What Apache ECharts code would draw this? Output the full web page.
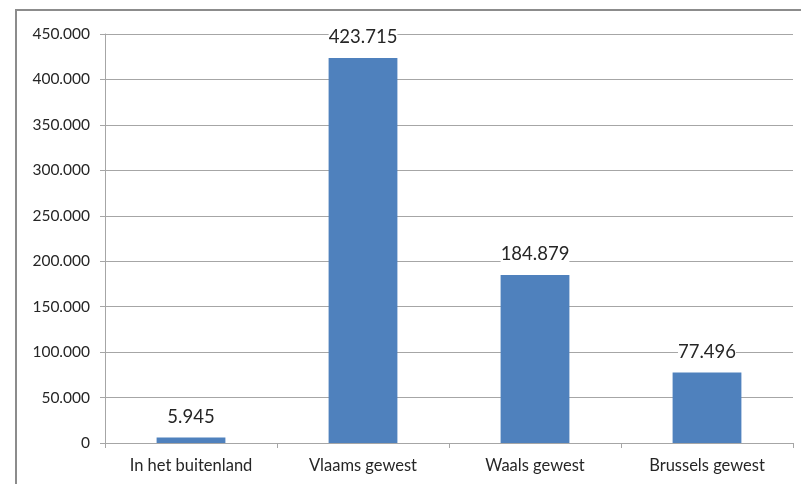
<!DOCTYPE html>
<html>
<head>
<meta charset="utf-8">
<script src="https://cdn.jsdelivr.net/npm/echarts@6/dist/echarts.min.js"></script>
<style>
  html, body { margin: 0; padding: 0; background: #fff; }
  #chart { width: 801px; height: 484px; }
</style>
</head>
<body>
<div id="chart"></div>
<script>
// Categories (regions) and counts per region
const categories = ['In het buitenland', 'Vlaams gewest', 'Waals gewest', 'Brussels gewest'];
const values = [5945, 423715, 184879, 77496];
const yTicks = [0, 50000, 100000, 150000, 200000, 250000, 300000, 350000, 400000, 450000];

// Dutch-style thousands separator: 423715 -> "423.715"
function fmt(v) {
  return String(Math.round(v)).replace(/\B(?=(\d{3})+(?!\d))/g, '.');
}

const chart = echarts.init(document.getElementById('chart'), null, { renderer: 'canvas' });
const font = 'Lato, "Open Sans", sans-serif';

chart.setOption({
  animation: false,
  backgroundColor: '#ffffff',
  graphic: [{
    type: 'rect',
    shape: { x: 16, y: 10, width: 800, height: 490 },
    style: { fill: 'none', stroke: '#8c8c8c', lineWidth: 2 },
    silent: true
  }],
  grid: { left: 105, right: 8, top: 34, bottom: 41, containLabel: false },
  xAxis: {
    type: 'category',
    data: categories,
    axisLine: { lineStyle: { color: '#a6a6a6', width: 1 } },
    axisTick: { show: true, length: 5, alignWithLabel: false, lineStyle: { color: '#a6a6a6' } },
    axisLabel: { color: '#262626', fontFamily: font, fontSize: 16.5, margin: 14 }
  },
  yAxis: {
    type: 'value',
    min: yTicks[0],
    max: yTicks[yTicks.length - 1],
    interval: yTicks[1] - yTicks[0],
    axisLine: { show: true, lineStyle: { color: '#a6a6a6', width: 1 } },
    axisTick: { show: true, length: 5, lineStyle: { color: '#a6a6a6' } },
    axisLabel: { color: '#262626', fontFamily: font, fontSize: 15.5, margin: 15, formatter: fmt },
    splitLine: { show: true, lineStyle: { color: '#a6a6a6', width: 1 } }
  },
  series: [{
    type: 'bar',
    data: values,
    barWidth: '40%',
    itemStyle: { color: '#4f81bd' },
    label: {
      show: true,
      position: 'top',
      distance: 11,
      color: '#262626',
      fontFamily: font,
      fontSize: 18.5,
      backgroundColor: '#ffffff',
      formatter: p => fmt(p.value)
    }
  }]
});
</script>
</body>
</html>
